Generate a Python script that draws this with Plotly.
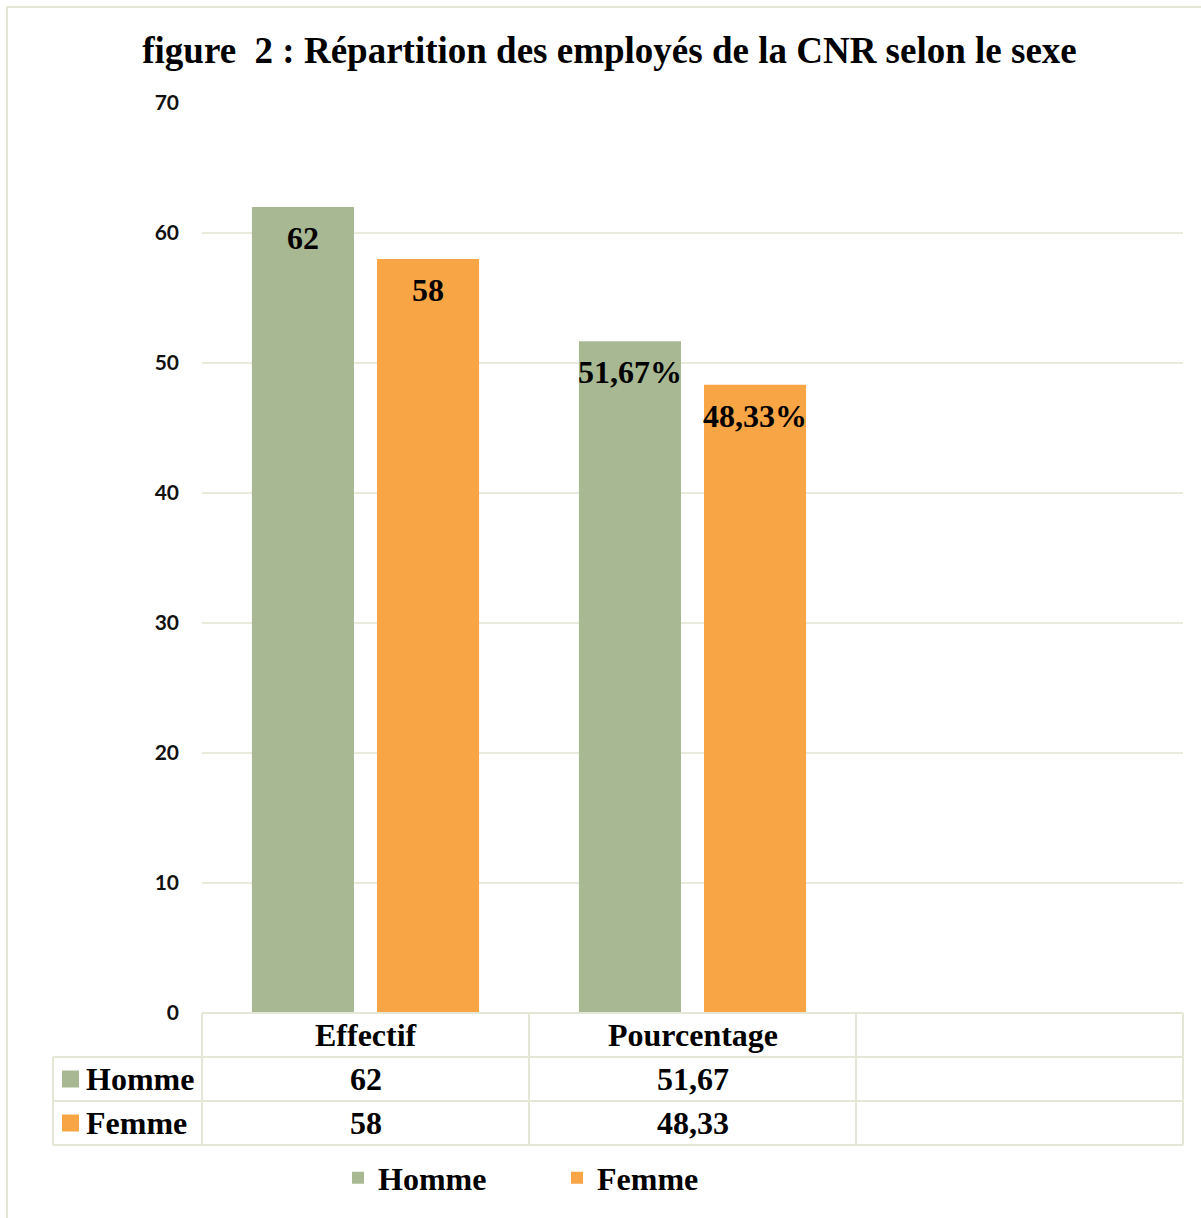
import plotly.graph_objects as go

# ---- data ----
categories = ["Effectif", "Pourcentage"]
series_names = ["Homme", "Femme"]
homme = [62, 51.67]
femme = [58, 48.33]
value_suffix = ["", "%"]          # suffix used in the bar labels per category
y_ticks = [0, 10, 20, 30, 40, 50, 60, 70]

# ---- styling ----
W, H = 1201, 1218
M_L, M_R, M_T, M_B = 202, 18, 103, 205
PW, PH = W - M_L - M_R, H - M_T - M_B
N_SLOTS = 3                        # two categories + one empty slot
GREEN = "#A8B893"
ORANGE = "#F7A545"
GRID = "#E9EBDD"
BORDER = "#E4E7D5"
SERIF = "Liberation Serif"
SANS = "Lato"
ROW_H = 44                         # height of a data-table row, px


def fmt(v):
    return f"{v:g}".replace(".", ",")


def px_x(p):
    """figure pixel x -> paper x"""
    return (p - M_L) / PW


def px_y(p):
    """figure pixel y -> paper y"""
    return (H - M_B - p) / PH


def slot_x(v):
    """category coordinate -> paper x"""
    return (v + 0.5) / N_SLOTS


bargap = 0.235
bargroupgap = 0.184
slot_px = PW / N_SLOTS
half_offset = slot_px * (1 - bargap) / 4   # distance from category centre to bar centre

fig = go.Figure()
for name, vals, col in [(series_names[0], homme, GREEN), (series_names[1], femme, ORANGE)]:
    fig.add_trace(go.Bar(
        x=list(range(len(categories))), y=vals, name=name,
        marker=dict(color=col, line=dict(width=0)),
        hoverinfo="skip",
    ))

annotations = []
shapes = []

# value labels inside the top of each bar
for sign, vals in [(-1, homme), (1, femme)]:
    for i, v in enumerate(vals):
        annotations.append(dict(
            x=i, y=v, xref="x", yref="y", xshift=sign * half_offset, yshift=-31,
            yanchor="middle", xanchor="center", showarrow=False,
            text=fmt(v) + value_suffix[i],
            font=dict(family=SERIF, size=32, color="#000000"),
        ))

# data table under the plot
top = 0
r1 = px_y(H - M_B + ROW_H)
r2 = px_y(H - M_B + 2 * ROW_H)
r3 = px_y(H - M_B + 3 * ROW_H)
line = dict(color=BORDER, width=2)
x_left_tbl = px_x(53)
shapes.append(dict(type="line", xref="paper", yref="paper", x0=0, x1=1, y0=top, y1=top, line=line))
for yy in (r1, r2, r3):
    shapes.append(dict(type="line", xref="paper", yref="paper", x0=x_left_tbl, x1=1, y0=yy, y1=yy, line=line))
shapes.append(dict(type="line", xref="paper", yref="paper", x0=x_left_tbl, x1=x_left_tbl, y0=r1, y1=r3, line=line))
for k in range(N_SLOTS + 1):
    xx = slot_x(k - 0.5)
    shapes.append(dict(type="line", xref="paper", yref="paper", x0=xx, x1=xx, y0=top, y1=r3, line=line))

cell_font = dict(family=SERIF, size=32, color="#000000")
for i, cat in enumerate(categories):
    annotations.append(dict(x=i, y=(top + r1) / 2, xref="x", yref="paper", text=cat,
                            showarrow=False, font=cell_font, yanchor="middle"))
    annotations.append(dict(x=i, y=(r1 + r2) / 2, xref="x", yref="paper", text=fmt(homme[i]),
                            showarrow=False, font=cell_font, yanchor="middle"))
    annotations.append(dict(x=i, y=(r2 + r3) / 2, xref="x", yref="paper", text=fmt(femme[i]),
                            showarrow=False, font=cell_font, yanchor="middle"))

for name, col, (ya, yb) in [(series_names[0], GREEN, (r1, r2)), (series_names[1], ORANGE, (r2, r3))]:
    yc = (ya + yb) / 2
    annotations.append(dict(x=px_x(84), y=yc, xref="paper", yref="paper", text=name,
                            showarrow=False, font=cell_font, xanchor="left", yanchor="middle"))
    shapes.append(dict(type="rect", xref="paper", yref="paper",
                       x0=px_x(62), x1=px_x(79), y0=yc - 8.5 / PH, y1=yc + 8.5 / PH,
                       fillcolor=col, line=dict(width=0)))

# outer chart frame
shapes.append(dict(type="rect", xref="paper", yref="paper",
                   x0=px_x(7), x1=px_x(1215), y0=px_y(1235), y1=px_y(7),
                   line=dict(color=BORDER, width=2), fillcolor="rgba(0,0,0,0)", layer="below"))

fig.update_layout(
    width=W, height=H,
    margin=dict(l=M_L, r=M_R, t=M_T, b=M_B),
    paper_bgcolor="#FFFFFF", plot_bgcolor="#FFFFFF",
    barmode="group", bargap=bargap, bargroupgap=bargroupgap,
    title=dict(
        text="figure\u00a0 2 : Répartition des employés de la CNR selon le sexe",
        x=609.5 / W, xref="container", xanchor="center",
        y=1 - 50 / H, yref="container", yanchor="middle",
        font=dict(family=SERIF, size=37, color="#000000", weight="bold"),
    ),
    xaxis=dict(range=[-0.5, N_SLOTS - 0.5], showticklabels=False, showgrid=False,
               zeroline=False, showline=False, fixedrange=True),
    yaxis=dict(range=[0, 70], tickvals=y_ticks, showgrid=True, gridcolor=GRID, gridwidth=2,
               zeroline=False, showline=False, ticks="", ticklabelstandoff=22,
               tickfont=dict(family=SANS, size=21, color="#111111", weight="bold")),
    showlegend=True,
    legend=dict(orientation="h", x=px_x(338), xanchor="left", y=px_y(1178), yanchor="middle",
                font=dict(family=SERIF, size=32, color="#000000", weight="bold"),
                entrywidth=174, bgcolor="rgba(0,0,0,0)"),
    annotations=annotations,
    shapes=shapes,
)
for a in fig.layout.annotations:
    a.font.weight = "bold"

fig.write_html("out.html")
